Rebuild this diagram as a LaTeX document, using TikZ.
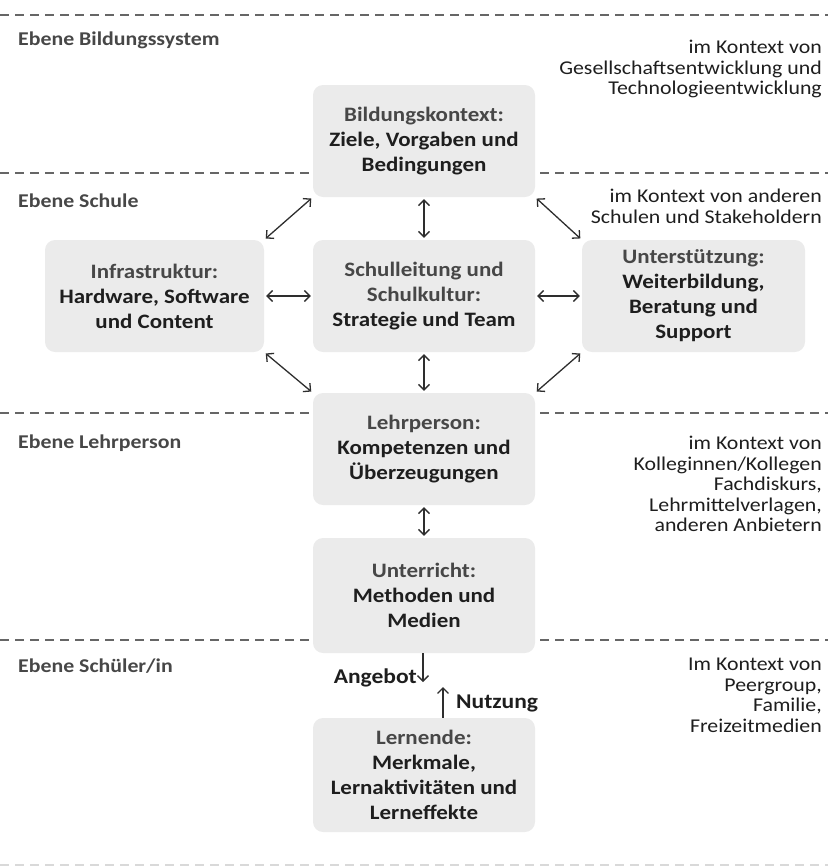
\documentclass[tikz,border=0pt]{standalone}
\usepackage{fontspec}
\setmainfont{Carlito}[FakeStretch=1.12]
\usetikzlibrary{arrows.meta}
\definecolor{boxfill}{HTML}{EBEBEB}
\definecolor{dashc}{HTML}{666666}
\definecolor{headc}{HTML}{474747}
\definecolor{txt}{HTML}{1E1E1E}
\definecolor{arrc}{HTML}{2E2E2E}
\begin{document}
\begin{tikzpicture}[x=1pt,y=-1pt,
  box/.style={fill=boxfill, rounded corners=10pt, minimum width=222pt, minimum height=112pt,
    align=center, inner sep=0pt, text=txt, font=\fontsize{20.5}{25}\selectfont\bfseries},
  level/.style={anchor=base west, inner sep=0pt, text=headc, font=\fontsize{19.5}{22}\selectfont\bfseries},
  ctx/.style={anchor=north east, inner sep=0pt, align=right, text=txt, font=\fontsize{19.5}{20.5}\selectfont},
  sepline/.style={draw=dashc, line width=2pt, dash pattern=on 8.5pt off 6.5pt},
  link/.style={draw=arrc, line width=1.3pt,
    {Straight Barb[length=5.5pt,width=11pt]}-{Straight Barb[length=5.5pt,width=11pt]},
    shorten <=2pt, shorten >=2pt},
  onearrow/.style={draw=arrc, line width=1.3pt, -{Straight Barb[length=5.5pt,width=11pt]}},
  flow/.style={inner sep=0pt, text=txt, font=\fontsize{21}{24}\selectfont\bfseries}
]
\useasboundingbox (0,0) rectangle (828,868);

% level separators
\draw[sepline] (0,15) -- (828,15);
\draw[sepline] (0,173) -- (828,173);
\draw[sepline] (0,413) -- (828,413);
\draw[sepline] (0,640) -- (828,640);
\draw[sepline, draw=gray!30] (0,865) -- (828,865);

% level labels
\node[level] (l1) at (18,45) {Ebene Bildungssystem};
\node[level] (l2) at (18,207) {Ebene Schule};
\node[level] (l3) at (18,448) {Ebene Lehrperson};
\node[level] (l4) at (18,672) {Ebene Schüler/in};

% context texts
\node[ctx] (c1) at (822,40) {im Kontext von\\Gesellschaftsentwicklung und\\Technologieentwicklung};
\node[ctx] (c2) at (822,189) {im Kontext von anderen\\Schulen und Stakeholdern};
\node[ctx] (c3) at (822,436) {im Kontext von\\Kolleginnen/Kollegen\\Fachdiskurs,\\Lehrmittelverlagen,\\anderen Anbietern};
\node[ctx] (c4) at (822,658) {Im Kontext von\\Peergroup,\\Familie,\\Freizeitmedien};

% boxes
\node[box] (bk) at (424,141) {\textcolor{headc}{Bildungskontext:}\\Ziele, Vorgaben und\\Bedingungen};
\node[box, minimum width=219pt] (inf) at (154.5,296) {\textcolor{headc}{Infrastruktur:}\\Hardware, Software\\und Content};
\node[box] (sl) at (424,296) {\textcolor{headc}{Schulleitung und}\\\textcolor{headc}{Schulkultur:}\\Strategie und Team};
\node[box, minimum width=223pt] (us) at (693.5,296) {\textcolor{headc}{Unterstützung:}\\Weiterbildung,\\Beratung und\\Support};
\node[box] (lp) at (424,449) {\textcolor{headc}{Lehrperson:}\\Kompetenzen und\\Überzeugungen};
\node[box, minimum height=115pt] (ur) at (424,595.5) {\textcolor{headc}{Unterricht:}\\Methoden und\\Medien};
\node[box, minimum height=114pt] (ln) at (424,775) {\textcolor{headc}{Lernende:}\\Merkmale,\\Lernaktivitäten und\\Lerneffekte};

% connectors
\draw[link] (bk.south) -- (sl.north);
\draw[link] (sl.south) -- (lp.north);
\draw[link] (lp.south) -- (ur.north);
\draw[link] (inf.east) -- (sl.west);
\draw[link] (sl.east) -- (us.west);
\draw[link] (bk.south west) -- (inf.north east);
\draw[link] (bk.south east) -- (us.north west);
\draw[link] (inf.south east) -- (lp.north west);
\draw[link] (us.south west) -- (lp.north east);

% Angebot / Nutzung
\coordinate (aEnd) at (423,682);
\draw[onearrow] (aEnd |- ur.south) -- (aEnd);
\node[flow, anchor=base east] (ang) at (417,683) {Angebot};
\coordinate (nEnd) at (443,687);
\draw[onearrow] (nEnd |- ln.north) -- (nEnd);
\node[flow, anchor=base west] (nut) at (456,708) {Nutzung};
\end{tikzpicture}
\end{document}
